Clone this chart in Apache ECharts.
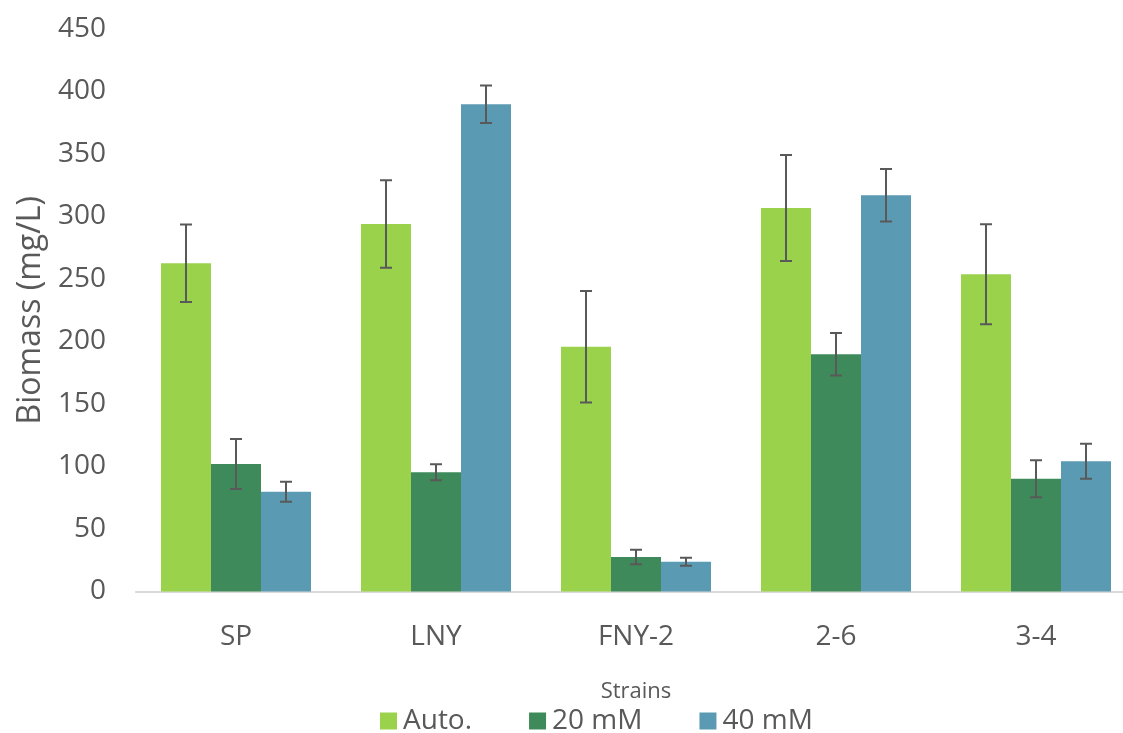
<!DOCTYPE html>
<html>
<head>
<meta charset="utf-8">
<script src="https://cdn.jsdelivr.net/npm/echarts@6/dist/echarts.min.js"></script>
<style>html,body{margin:0;padding:0;background:#fff;overflow:hidden;width:1123px;height:733px;}#c{width:1140px;height:733px;}</style>
</head>
<body>
<div id="c"></div>
<script>
const categories = ['SP', 'LNY', 'FNY-2', '2-6', '3-4'];
const seriesNames = ['Auto.', '20 mM', '40 mM'];
const autoValues = [262.6, 294, 195.8, 306.8, 253.8];
const mM20Values = [102, 95.4, 27.6, 189.8, 90.2];
const mM40Values = [79.8, 389.8, 23.8, 317, 104.2];
const autoErr = [31, 35, 44.6, 42.4, 40];
const mM20Err = [20, 6.4, 5.8, 17, 14.8];
const mM40Err = [8, 15, 3.2, 21, 14];
const yTicks = [0, 50, 100, 150, 200, 250, 300, 350, 400, 450];

const colors = ['#9AD24C', '#3E8A5A', '#5A9AB2'];
const values = [autoValues, mM20Values, mM40Values];
const errs = [autoErr, mM20Err, mM40Err];
const textColor = '#595959';
const font = '"Open Sans", sans-serif';

const chart = echarts.init(document.getElementById('c'));

const barSeries = seriesNames.map((n, i) => ({
  name: n,
  type: 'bar',
  data: values[i],
  barGap: '0%',
  barCategoryGap: '25%',
  itemStyle: { color: colors[i] },
  emphasis: { disabled: true },
  z: 2
}));

const errSeries = seriesNames.map((n, i) => ({
  type: 'custom',
  data: values[i].map((v, k) => [k, v, errs[i][k]]),
  z: 5,
  silent: true,
  renderItem: function (params, api) {
    const k = api.value(0);
    const v = api.value(1);
    const e = api.value(2);
    const catW = api.size([1, 0])[0];
    const off = (i - 1) * catW * 0.25;
    const top = api.coord([k, v + e]);
    const bot = api.coord([k, v - e]);
    const x = top[0] + off;
    const cap = 6;
    const style = { stroke: '#595959', lineWidth: 2 };
    return {
      type: 'group',
      children: [
        { type: 'line', shape: { x1: x, y1: top[1], x2: x, y2: bot[1] }, style: style },
        { type: 'line', shape: { x1: x - cap, y1: top[1], x2: x + cap, y2: top[1] }, style: style },
        { type: 'line', shape: { x1: x - cap, y1: bot[1], x2: x + cap, y2: bot[1] }, style: style }
      ]
    };
  }
}));

chart.setOption({
  animation: false,
  backgroundColor: '#ffffff',
  textStyle: { fontFamily: font, color: textColor },
  grid: { left: 136, top: 29, right: 4, height: 562.5, containLabel: false },
  legend: {
    data: seriesNames,
    left: 375,
    top: 702,
    itemWidth: 17,
    itemHeight: 17,
    itemGap: 57,
    icon: 'rect',
    textStyle: { fontSize: 28, color: textColor, fontFamily: font, padding: [0, 0, 0, 1] }
  },
  xAxis: {
    type: 'category',
    data: categories,
    name: 'Strains',
    nameLocation: 'middle',
    nameGap: 89,
    nameTextStyle: { fontSize: 22, color: textColor, fontFamily: font },
    axisLine: { lineStyle: { color: '#D9D9D9', width: 2 } },
    axisTick: { show: false },
    axisLabel: { fontSize: 28, color: textColor, margin: 32, fontFamily: font }
  },
  yAxis: {
    type: 'value',
    min: 0,
    max: 450,
    interval: 50,
    name: 'Biomass (mg/L)',
    nameLocation: 'middle',
    nameGap: 87,
    nameTextStyle: { fontSize: 32, color: textColor, fontFamily: font },
    axisLine: { show: false },
    axisTick: { show: false },
    splitLine: { show: false },
    axisLabel: {
      fontSize: 28, color: textColor, margin: 30, fontFamily: font,
      formatter: function (v) { return yTicks.indexOf(v) >= 0 ? String(v) : ''; }
    }
  },
  series: barSeries.concat(errSeries)
});
</script>
</body>
</html>
